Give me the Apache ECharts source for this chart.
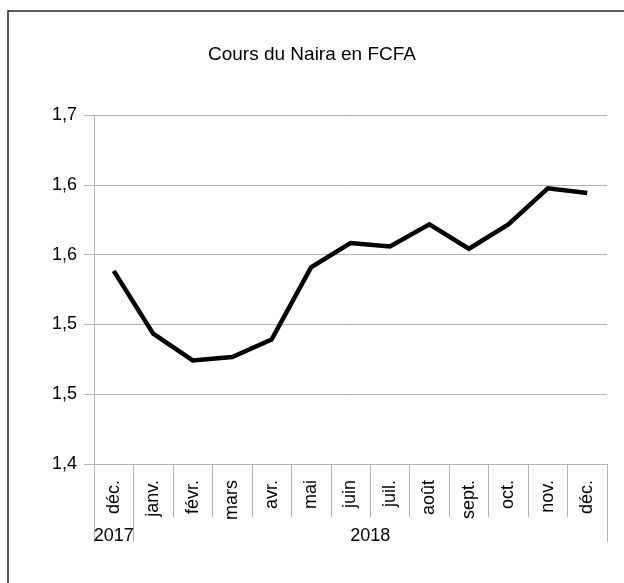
<!DOCTYPE html>
<html>
<head>
<meta charset="utf-8">
<script src="https://cdn.jsdelivr.net/npm/echarts@6/dist/echarts.min.js"></script>
<style>
  html, body { margin: 0; padding: 0; background: #fff; }
  #chart { width: 624px; height: 583px; }
</style>
</head>
<body>
<div id="chart"></div>
<script>
const months = ['déc.', 'janv.', 'févr.', 'mars', 'avr.', 'mai', 'juin', 'juil.', 'août', 'sept.', 'oct.', 'nov.', 'déc.']
const rates = [1.566, 1.512, 1.489, 1.492, 1.507, 1.569, 1.590, 1.587, 1.606, 1.585, 1.606, 1.637, 1.633]
const years = ['2017', '2018']
const yearSpans = [1, 12]
const yTicks = [1.4, 1.46, 1.52, 1.58, 1.64, 1.7]

// bornes et centres des années, en nombre de mois
const yearBounds = [0]
const yearCenters = []
yearSpans.forEach((n, i) => {
  yearCenters.push(yearBounds[i] + n / 2)
  yearBounds.push(yearBounds[i] + n)
})

const font = 'Liberation Sans, Arial, sans-serif'
const chart = echarts.init(document.getElementById('chart'))

const option = {
  backgroundColor: '#fff',
  animation: false,
  title: {
    text: 'Cours du Naira en FCFA',
    left: 'center',
    top: 40,
    textStyle: { fontFamily: font, fontSize: 19, fontWeight: 'normal', color: '#000' }
  },
  graphic: [{
    type: 'rect',
    shape: { x: 8, y: 11, width: 700, height: 700 },
    style: { fill: 'none', stroke: '#222', lineWidth: 1.5 },
    silent: true
  }],
  grid: { left: 94, right: 17, top: 115, bottom: 119 },
  xAxis: [{
    type: 'category',
    data: months,
    boundaryGap: true,
    axisLine: { lineStyle: { color: '#b3b3b3', width: 1 } },
    axisTick: { show: true, length: 53, lineStyle: { color: '#b3b3b3' } },
    axisLabel: {
      rotate: 90,
      margin: 16,
      interval: 0,
      fontFamily: font,
      fontSize: 18,
      color: '#000'
    }
  }, {
    type: 'value',
    position: 'bottom',
    min: 0,
    max: yearBounds[yearBounds.length - 1],
    axisLine: { show: false },
    splitLine: { show: false },
    axisTick: { show: true, length: 78, customValues: yearBounds, lineStyle: { color: '#b3b3b3' } },
    axisLabel: {
      customValues: yearCenters,
      margin: 63,
      fontFamily: font,
      fontSize: 18,
      color: '#000',
      formatter: v => years[yearCenters.indexOf(v)] || ''
    }
  }],
  yAxis: {
    type: 'value',
    min: 1.4,
    max: 1.7,
    axisLine: { show: true, lineStyle: { color: '#b3b3b3' } },
    axisTick: { show: true, length: 10, customValues: yTicks, lineStyle: { color: '#b3b3b3' } },
    splitLine: { show: true, lineStyle: { color: '#b3b3b3', width: 1 } },
    axisLabel: {
      customValues: yTicks,
      margin: 17,
      fontFamily: font,
      fontSize: 18,
      color: '#000',
      formatter: v => v.toFixed(1).replace('.', ',')
    }
  },
  series: [{
    type: 'line',
    data: rates,
    xAxisIndex: 0,
    showSymbol: false,
    symbol: 'none',
    lineStyle: { color: '#000', width: 4.5, join: 'miter' }
  }]
}

chart.setOption(option)
</script>
</body>
</html>
